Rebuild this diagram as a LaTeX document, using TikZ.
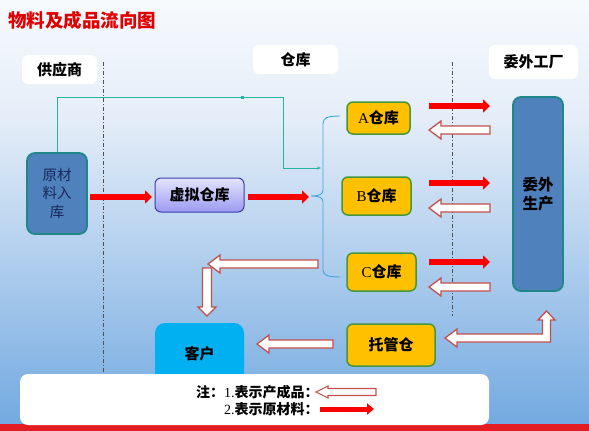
\documentclass[tikz,border=0pt]{standalone}
\usepackage{fontspec}
\setmainfont{Liberation Serif}
\newfontfamily\cjk{Noto Sans CJK SC}
\usetikzlibrary{arrows.meta}
\definecolor{bgtop}{RGB}{247,250,253}
\definecolor{bgmid}{RGB}{228,237,248}
\definecolor{bgbot}{RGB}{112,168,224}
\definecolor{titlered}{RGB}{225,0,0}
\definecolor{arrred}{RGB}{250,0,0}
\definecolor{woutline}{RGB}{192,80,77}
\definecolor{yellowbox}{RGB}{255,192,0}
\definecolor{yellowedge}{RGB}{70,150,60}
\definecolor{bluebox}{RGB}{79,129,189}
\definecolor{blueedge}{RGB}{30,135,135}
\definecolor{kehu}{RGB}{0,176,240}
\definecolor{lavtop}{RGB}{228,228,255}
\definecolor{lavbot}{RGB}{155,155,240}
\definecolor{lavedge}{RGB}{60,60,170}
\definecolor{tealline}{RGB}{40,178,160}
\definecolor{braceblue}{RGB}{60,168,224}
\definecolor{sepgray}{RGB}{80,80,80}
\definecolor{navytext}{RGB}{25,40,90}
\definecolor{stripred}{RGB}{226,29,35}
\newcommand\wal[3]{\draw[warrow] (#1,#3) -- (#1+12,#3-9) -- (#1+12,#3-4) -- (#2,#3-4) -- (#2,#3+4) -- (#1+12,#3+4) -- (#1+12,#3+9) -- cycle;}
\begin{document}
\begin{tikzpicture}[x=1pt,y=-1pt,
  labelbox/.style={fill=white, rounded corners=6pt, inner sep=0pt, font=\cjk\bfseries\fontsize{15}{18}\selectfont},
  ybox/.style={fill=yellowbox, draw=yellowedge, line width=1.5pt, rounded corners=6pt, inner sep=0pt, font=\fontsize{15}{18}\selectfont},
  bbox/.style={fill=bluebox, draw=blueedge, line width=1.8pt, rounded corners=8pt, inner sep=0pt},
  sepline/.style={draw=sepgray, line width=0.8pt, dash pattern=on 4pt off 2pt on 1pt off 2pt},
  redarrow/.style={draw=arrred, line width=6pt, -{Triangle[length=7pt,width=13pt]}},
  warrow/.style={fill=white, draw=woutline, line width=1.3pt, line join=miter},
]
\useasboundingbox (0,0) rectangle (589,431);
\shade[top color=bgtop, bottom color=bgmid] (0,0) rectangle (589,120.5);
\shade[top color=bgmid, bottom color=bgbot] (0,120) rectangle (589,431);

% title
\node[anchor=west, inner sep=0pt, text=titlered, font=\cjk\bfseries\fontsize{18.5}{20}\selectfont] (title) at (8,20) {物料及成品流向图};

% column labels
\node[labelbox, minimum width=75pt, minimum height=29pt] (gys) at (59.5,69.5) {供应商};
\node[labelbox, minimum width=85pt, minimum height=29pt] (ck) at (295.5,59.5) {仓库};
\node[labelbox, minimum width=89pt, minimum height=34pt] (wwgc) at (533.5,62) {委外工厂};

% separators
\coordinate (s1a) at (103,62); \coordinate (s1b) at (103,374);
\coordinate (s2a) at (452,62); \coordinate (s2b) at (452,316);
\draw[sepline] (s1a) -- (s1b);
\draw[sepline] (s2a) -- (s2b);

% boxes
\node[bbox, minimum width=60pt, minimum height=81pt, align=center, text=navytext,
  font=\cjk\fontsize{14.5}{18.5}\selectfont] (raw) at (57,193.5) {原材\\料入\\库};
\node[draw=lavedge, line width=1pt, top color=lavtop, bottom color=lavbot, rounded corners=6pt,
  minimum width=89pt, minimum height=34pt, inner sep=0pt, font=\cjk\bfseries\fontsize{15}{18}\selectfont] (xn) at (199.5,195) {虚拟仓库};
\node[ybox, minimum width=63pt, minimum height=32pt] (ca) at (378.5,118) {A{\cjk\bfseries 仓库}};
\node[ybox, minimum width=69pt, minimum height=38pt] (cb) at (376.5,196) {B{\cjk\bfseries 仓库}};
\node[ybox, minimum width=69pt, minimum height=38pt] (cc) at (381.5,272) {C{\cjk\bfseries 仓库}};
\node[ybox, minimum width=88pt, minimum height=42pt, font=\cjk\bfseries\fontsize{15}{18}\selectfont] (tg) at (391,345) {托管仓};
\node[bbox, minimum width=50pt, minimum height=194pt, align=center,
  font=\cjk\bfseries\fontsize{15.5}{19}\selectfont] (ww) at (538,194) {委外\\生产};
\node[fill=kehu, rounded corners=10pt, minimum width=89pt, minimum height=62pt, inner sep=0pt,
  font=\cjk\bfseries\fontsize{15}{18}\selectfont] (kh) at (199.5,354) {客户};

% teal connector
\coordinate (t1) at (283,97);
\coordinate (t2) at (321,168);
\draw[tealline, line width=0.9pt, -{Stealth[length=4pt,width=3pt]}] (raw.north) |- (t1) |- (t2);
\fill[tealline] (240.5,95.5) rectangle (243.5,98.5);

% brace
\coordinate (bt) at (340,116);
\coordinate (bb) at (340,277);
\coordinate (bm) at (311,196);
\draw[braceblue, line width=0.9pt] (bt) .. controls (327,116) and (323,118) .. (323,124) -- (323,190)
  .. controls (323,194) and (320,196) .. (bm) .. controls (320,196) and (323,198) .. (323,202)
  -- (323,270) .. controls (323,275) and (327,277) .. (bb);

% red arrows (raw material)
\coordinate (r1a) at (90,197); \coordinate (r1b) at (152,197);
\coordinate (r2a) at (248,197); \coordinate (r2b) at (309,197);
\draw[redarrow] (r1a) -- (r1b);
\draw[redarrow] (r2a) -- (r2b);
\foreach \yy in {106,183,262}{
  \draw[redarrow] (429,\yy) -- (490,\yy);
}

% white arrows (finished products)
\wal{429}{490}{130}
\wal{429}{490}{208}
\wal{429}{490}{287}
\wal{257}{333}{344}
% bent arrow from C to customer
\draw[warrow] (207,316) -- (198,307) -- (202.5,307) -- (202.5,268) -- (211.5,268) -- (211.5,307) -- (216,307) -- cycle;
\wal{208}{318}{264}
% bent arrow from outsourcing to custody
\draw[warrow] (445,338) -- (457,329) -- (457,334) -- (542.5,334) -- (542.5,320) -- (538,320) -- (546.5,311)
  -- (555,320) -- (550.5,320) -- (550.5,342) -- (457,342) -- (457,347) -- cycle;

% bottom strip and note
\fill[stripred] (0,424) rectangle (589,431);
\node[fill=white, rounded corners=8pt, minimum width=469pt, minimum height=51pt, inner sep=0pt] (note) at (254.5,399.5) {};
\node[anchor=west, inner sep=0pt, font=\fontsize{14}{16}\selectfont] (n1) at (196,392) {{\cjk\bfseries 注：}1.{\cjk\bfseries 表示产成品：}};
\node[anchor=west, inner sep=0pt, font=\fontsize{14}{16}\selectfont] (n2) at (224,409) {2.{\cjk\bfseries 表示原材料：}};
\draw[warrow, line width=1.1pt] (316,392) -- (328,386) -- (328,388.5) -- (376,388.5) -- (376,395.5) -- (328,395.5) -- (328,398) -- cycle;
\coordinate (l2a) at (320,409); \coordinate (l2b) at (374,409);
\draw[draw=arrred, line width=5pt, -{Triangle[length=7pt,width=11pt]}] (l2a) -- (l2b);
\end{tikzpicture}
\end{document}
